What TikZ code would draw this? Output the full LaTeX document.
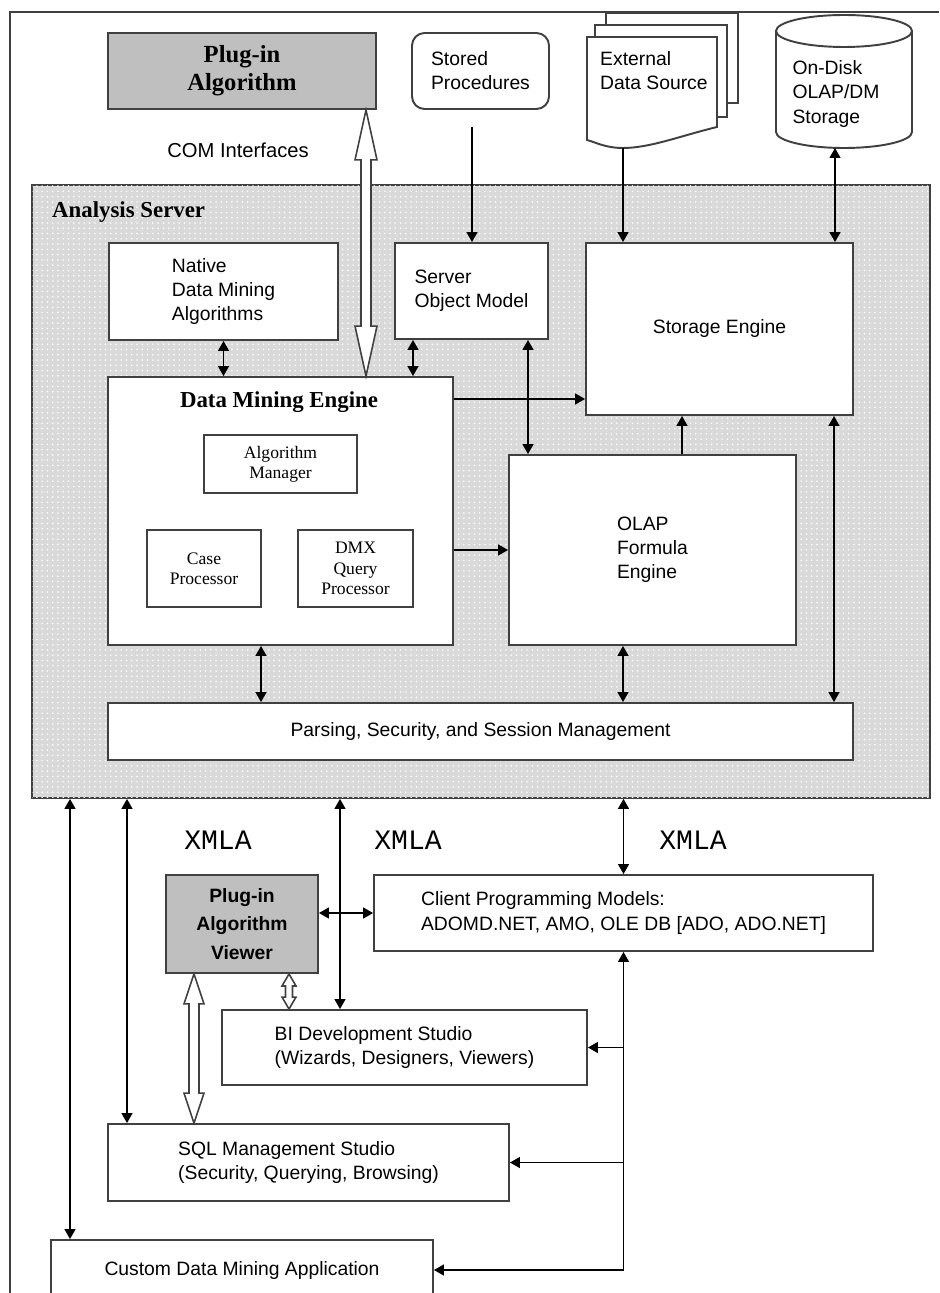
\documentclass[tikz,border=0pt]{standalone}
\usepackage{fontspec}
\setmainfont{Liberation Serif}
\setsansfont{Liberation Sans}
\setmonofont{Liberation Mono}
\usetikzlibrary{calc,patterns,arrows.meta}

% fat white double arrow: top point, bottom point, shaft half width, head half width, head length (px)
\newcommand{\hollowarrow}[5]{%
  \draw[hollow] let \p1=#1, \p2=#2 in
    (\x1,\y1) -- (\x1+#4*0.569pt,\y1-#5*0.569pt) -- (\x1+#3*0.569pt,\y1-#5*0.569pt)
    -- (\x1+#3*0.569pt,\y2+#5*0.569pt) -- (\x1+#4*0.569pt,\y2+#5*0.569pt) -- (\x1,\y2)
    -- (\x1-#4*0.569pt,\y2+#5*0.569pt) -- (\x1-#3*0.569pt,\y2+#5*0.569pt)
    -- (\x1-#3*0.569pt,\y1-#5*0.569pt) -- (\x1-#4*0.569pt,\y1-#5*0.569pt) -- cycle;}

\begin{document}
\begin{tikzpicture}[x=0.02cm,y=-0.02cm]
\tikzstyle{box}=[draw=black!75,line width=1.1pt,fill=white,inner sep=0pt,align=left,font=\sffamily\fontsize{11}{13.7}\selectfont]
\tikzstyle{greybox}=[box,fill=black!25,align=center]
\tikzstyle{smallbox}=[box,align=center,font=\rmfamily\fontsize{10}{11.5}\selectfont]
\tikzstyle{serverbox}=[draw=black!75,line width=1.1pt,fill=black!15,postaction={pattern=dots,pattern color=white}]
\tikzstyle{heading}=[font=\rmfamily\bfseries\fontsize{13}{15}\selectfont]
\tikzstyle{plain}=[align=left,font=\sffamily\fontsize{11}{13.7}\selectfont]
\tikzstyle{xmla}=[font=\ttfamily\fontsize{16}{18}\selectfont]
\tikzstyle{page}=[draw=black!75,line width=1.1pt,fill=white]
\tikzstyle{link}=[line width=0.8pt,-{Triangle[length=0.2cm,width=0.22cm]}]
\tikzstyle{dlink}=[line width=0.8pt,{Triangle[length=0.2cm,width=0.22cm]}-{Triangle[length=0.2cm,width=0.22cm]}]
\tikzstyle{hollow}=[draw=black!75,line width=0.9pt,fill=white]
\useasboundingbox (0,0) rectangle (939,1293);
\clip (0,0) rectangle (939,1293);
\draw[draw=black!75,line width=1.1pt] (939,12) -- (10,12) -- (10,1293);
% ========= outside the server
\node (plugin) at (242,71) [greybox,minimum width=5.36cm,minimum height=1.52cm,font=\rmfamily\bfseries\fontsize{14}{16}\selectfont] {Plug-in\\Algorithm};
\node (stored) at (480.5,71) [box,rounded corners=0.25cm,minimum width=2.74cm,minimum height=1.52cm] {Stored\\Procedures};
\node (com) at (238,150) [plain,font=\sffamily\fontsize{11.5}{14}\selectfont] {COM Interfaces};

\filldraw[page] (606,13) rectangle (738,103);
\filldraw[page] (595,25) rectangle (727,117);
\filldraw[page] (587,37) -- (717,37) -- (717,127) .. controls (680,136) and (650,148) .. (623,148) .. controls (605,148) and (595,142) .. (587,140) -- cycle;
\node (extsrc) at (594,70.5) [plain,anchor=west] {External\\Data Source};
\coordinate (extout) at (623,148);

\filldraw[page] (776,31) -- (776,132) arc[start angle=180,end angle=360,x radius=1.36cm,y radius=0.32cm] -- (912,31) arc[start angle=0,end angle=180,x radius=1.36cm,y radius=0.32cm] -- cycle;
\draw[draw=black!75,line width=1.1pt] (776,31) arc[start angle=180,end angle=360,x radius=1.36cm,y radius=0.32cm];
\node (disk) at (836,94) [plain] {On-Disk\\OLAP/DM\\Storage};
\coordinate (diskout) at (835,148);
\coordinate (storedout) at (472,127);

% ========= analysis server
\node (server) at (481,491.5) [serverbox,minimum width=17.96cm,minimum height=12.26cm] {};
\node (servertitle) at (46,212) [anchor=west,heading] {Analysis Server};

\node (native) at (223.5,291.5) [box,minimum width=4.58cm,minimum height=1.94cm] {Native\\Data Mining\\Algorithms};
\node (som) at (471.5,291) [box,minimum width=3.06cm,minimum height=1.92cm] {Server\\Object Model};
\node (storage) at (719.5,329) [box,minimum width=5.34cm,minimum height=3.44cm] {Storage Engine};

\node (dme) at (280.5,511) [box,minimum width=6.9cm,minimum height=5.36cm] {};
\node (dmetitle) at (279,402) [heading] {Data Mining Engine};
\node (algman) at (280.5,464) [smallbox,minimum width=3.06cm,minimum height=1.16cm] {Algorithm\\Manager};
\node (casep) at (204,568.5) [smallbox,minimum width=2.28cm,minimum height=1.54cm] {Case\\Processor};
\node (dmx) at (355.5,568.5) [smallbox,minimum width=2.3cm,minimum height=1.54cm] {DMX\\Query\\Processor};

\node (olap) at (652.5,550) [box,minimum width=5.74cm,minimum height=3.8cm] {OLAP\\Formula\\Engine};
\node (parse) at (480.5,731.5) [box,minimum width=14.9cm,minimum height=1.14cm] {Parsing, Security, and Session Management};

% ========= clients
\node (viewer) at (242,924) [greybox,minimum width=3.04cm,minimum height=1.96cm,font=\sffamily\bfseries\fontsize{11}{16}\selectfont] {Plug-in\\Algorithm\\Viewer};
\node (client) at (623.5,913) [box,minimum width=9.98cm,minimum height=1.52cm] {Client Programming Models:\\ADOMD.NET, AMO, OLE DB [ADO, ADO.NET]};
\node (bids) at (404.5,1047.5) [box,minimum width=7.3cm,minimum height=1.5cm] {BI Development Studio\\(Wizards, Designers, Viewers)};
\node (ssms) at (308.5,1162.5) [box,minimum width=8.02cm,minimum height=1.54cm] {SQL Management Studio\\(Security, Querying, Browsing)};
\node (custom) at (242,1270) [box,minimum width=7.64cm,minimum height=1.2cm] {Custom Data Mining Application};

\node (xmla1) at (218,840) [xmla] {XMLA};
\node (xmla2) at (408,840) [xmla] {XMLA};
\node (xmla3) at (693,840) [xmla] {XMLA};

% ====== connections
\hollowarrow{(366,0 |- plugin.south)}{(366,0 |- dme.north)}{5}{11}{50}
\draw[link] (storedout) -- (472,0 |- som.north);
\draw[link] (extout) -- (extout |- storage.north);
\draw[dlink] (diskout) -- (diskout |- storage.north);

\draw[dlink] (native.south) -- (native.south |- dme.north);
\draw[dlink] (413,0 |- som.south) -- (413,0 |- dme.north);
\draw[link] (dme.east |- 0,399) -- (storage.west |- 0,399);
\draw[dlink] (528,0 |- som.south) -- (528,0 |- olap.north);
\draw[link] (dme.east |- olap.west) -- (olap.west);
\draw[link] (682,0 |- olap.north) -- (682,0 |- storage.south);
\draw[dlink] (834,0 |- storage.south) -- (834,0 |- parse.north);
\draw[dlink] (261,0 |- dme.south) -- (261,0 |- parse.north);
\draw[dlink] (623,0 |- olap.south) -- (623,0 |- parse.north);

\draw[dlink] (70,0 |- server.south) -- (70,0 |- custom.north);
\draw[dlink] (127,0 |- server.south) -- (127,0 |- ssms.north);
\draw[dlink] (340,0 |- server.south) -- (340,0 |- bids.north);
\draw[dlink] (client.north |- server.south) -- (client.north);
\draw[dlink] (client.west -| viewer.east) -- (client.west);
\hollowarrow{(289,0 |- viewer.south)}{(289,0 |- bids.north)}{3.5}{7}{12}
\hollowarrow{(194,0 |- viewer.south)}{(194,0 |- ssms.north)}{5}{10}{30}

\draw[link] (client.south |- custom.east) -- (client.south);
\draw[link] (client.south |- bids.east) -- (bids.east);
\draw[link] (client.south |- ssms.east) -- (ssms.east);
\draw[link] (client.south |- custom.east) -- (custom.east);
\end{tikzpicture}
\end{document}
